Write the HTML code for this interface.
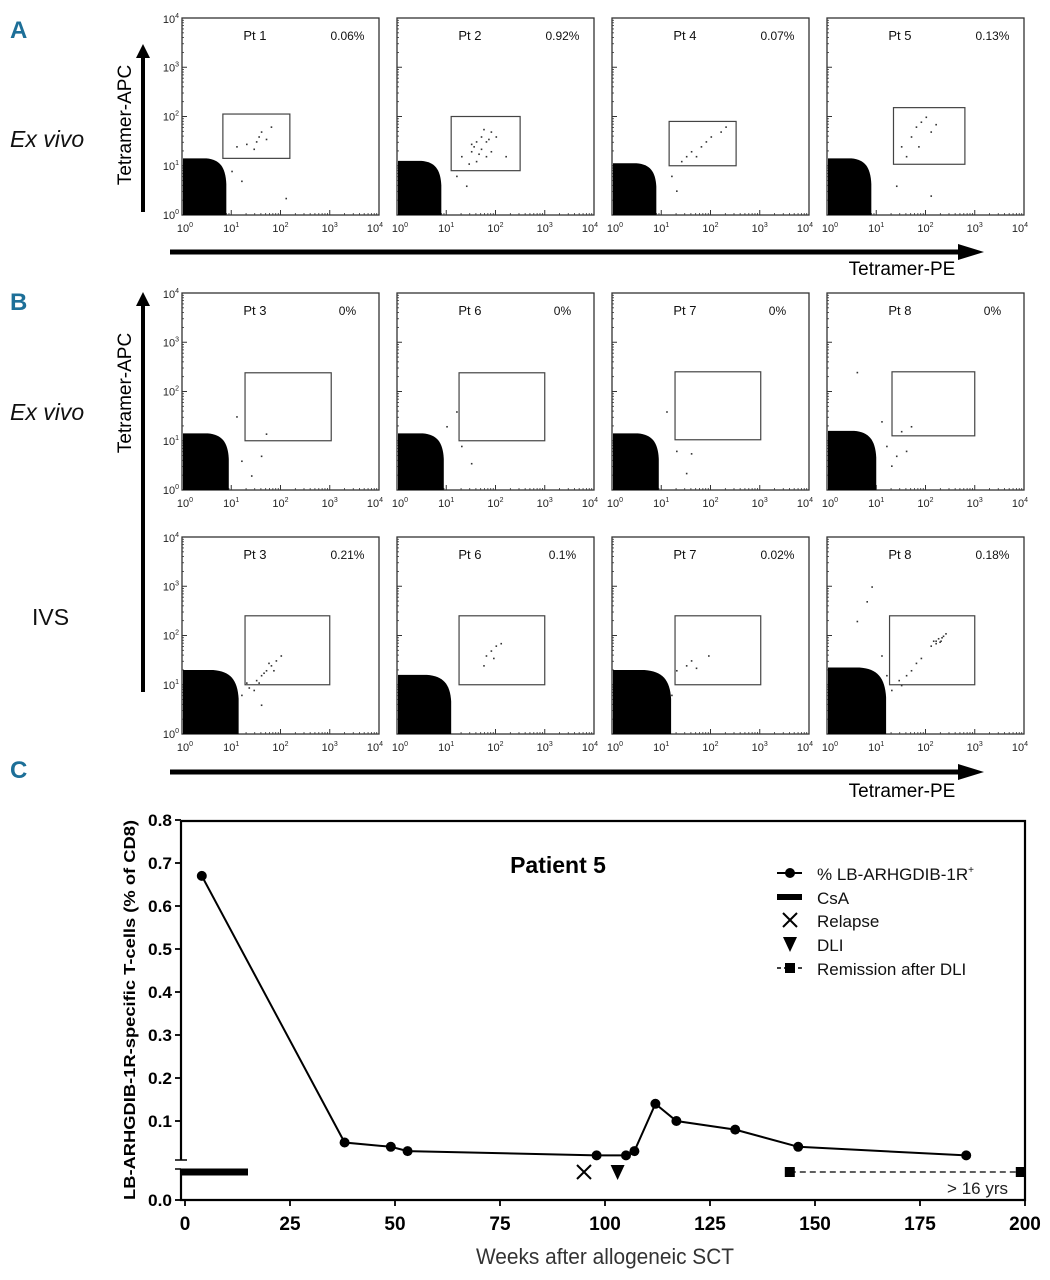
<!DOCTYPE html>
<html><head><meta charset="utf-8"><style>
html,body{margin:0;padding:0;background:#fff;}
svg{display:block;font-family:"Liberation Sans",sans-serif;}
</style></head><body>
<svg id="fig" width="1050" height="1280" viewBox="0 0 1050 1280" xmlns="http://www.w3.org/2000/svg">
<g font-weight="bold" fill="#1d6f98" font-size="24">
<text x="10" y="38">A</text>
<text x="10" y="310">B</text>
<text x="10" y="778">C</text>
</g>
<g font-size="23" fill="#111">
<text x="10" y="147" font-style="italic">Ex vivo</text>
<text x="10" y="420" font-style="italic">Ex vivo</text>
<text x="32" y="625">IVS</text>
</g>
<g>
<line x1="143" y1="212" x2="143" y2="56" stroke="#000" stroke-width="4"/>
<polygon points="136,58 150,58 143,44" fill="#000"/>
<text transform="translate(131,125) rotate(-90)" text-anchor="middle" font-size="19">Tetramer-APC</text>
<line x1="170" y1="252" x2="962" y2="252" stroke="#000" stroke-width="5"/>
<polygon points="958,244 958,260 984,252" fill="#000"/>
<text x="902" y="275" text-anchor="middle" font-size="19">Tetramer-PE</text>
<line x1="143" y1="692" x2="143" y2="304" stroke="#000" stroke-width="4"/>
<polygon points="136,306 150,306 143,292" fill="#000"/>
<text transform="translate(131,393) rotate(-90)" text-anchor="middle" font-size="19">Tetramer-APC</text>
<line x1="170" y1="772" x2="962" y2="772" stroke="#000" stroke-width="5"/>
<polygon points="958,764 958,780 984,772" fill="#000"/>
<text x="902" y="797" text-anchor="middle" font-size="19">Tetramer-PE</text>
</g>
<g id="flow"></g>
<g id="chartc"></g>
</svg>
<script>
var NS="http://www.w3.org/2000/svg";
function mk(tag,attrs,parent){var e=document.createElementNS(NS,tag);for(var k in attrs)e.setAttribute(k,attrs[k]);if(parent)parent.appendChild(e);return e;}

// ---------- Flow cytometry plots ----------
var plotPatients=["Pt 1","Pt 2","Pt 4","Pt 5","Pt 3","Pt 6","Pt 7","Pt 8","Pt 3","Pt 6","Pt 7","Pt 8"];
var plotPercents=["0.06%","0.92%","0.07%","0.13%","0%","0%","0%","0%","0.21%","0.1%","0.02%","0.18%"];
var plotGates=[[0.83,2.19,1.15,2.05],[1.1,2.5,0.9,2.0],[1.16,2.52,1.0,1.9],[1.35,2.8,1.03,2.18],
[1.28,3.03,1.0,2.38],[1.26,3.0,1.0,2.38],[1.28,3.02,1.02,2.4],[1.32,3.0,1.1,2.4],
[1.28,3.0,1.0,2.4],[1.26,3.0,1.0,2.4],[1.28,3.02,1.0,2.4],[1.27,3.0,1.0,2.4]];
var plotBlobs=[[0.9,1.15],[0.9,1.1],[0.9,1.05],[0.9,1.15],[0.95,1.15],[0.95,1.15],[0.95,1.15],[1.0,1.2],
[1.15,1.3],[1.1,1.2],[1.2,1.3],[1.2,1.35]];
var plotEvents=[
[[1.1,1.4],[1.3,1.45],[1.5,1.5],[1.6,1.7],[1.7,1.55],[1.8,1.8],[1.55,1.6],[1.45,1.35],[2.1,0.35],[1.0,0.9],[1.2,0.7]],
[[1.3,1.2],[1.5,1.3],[1.6,1.5],[1.7,1.6],[1.8,1.5],[1.9,1.7],[1.6,1.1],[1.7,1.35],[1.85,1.55],[1.5,1.45],[2.0,1.6],[1.75,1.75],[1.45,1.05],[1.2,0.8],[1.4,0.6],[2.2,1.2],[1.9,1.3],[1.65,1.25],[1.55,1.4],[1.8,1.2]],
[[1.4,1.1],[1.6,1.3],[1.8,1.4],[2.0,1.6],[2.2,1.7],[2.3,1.8],[1.9,1.5],[1.5,1.2],[1.2,0.8],[1.3,0.5],[1.7,1.2]],
[[1.5,1.4],[1.7,1.6],[1.8,1.8],[1.9,1.9],[2.0,2.0],[2.2,1.85],[1.6,1.2],[1.85,1.4],[2.1,1.7],[1.4,0.6],[2.1,0.4]],
[[1.2,0.6],[1.6,0.7],[1.7,1.15],[1.1,1.5],[1.4,0.3]],
[[1.3,0.9],[1.5,0.55],[1.2,1.6],[1.0,1.3]],
[[1.3,0.8],[1.6,0.75],[1.1,1.6],[1.5,0.35]],
[[1.2,0.9],[1.4,0.7],[1.6,0.8],[1.7,1.3],[1.5,1.2],[1.3,0.5],[1.1,1.4],[0.6,2.4]],
[[1.2,0.8],[1.35,0.95],[1.5,1.1],[1.6,1.2],[1.7,1.3],[1.8,1.4],[1.9,1.5],[1.65,1.25],[1.55,1.05],[1.75,1.45],[2.0,1.6],[1.45,0.9],[1.6,0.6],[1.3,1.05],[1.85,1.3]],
[[1.8,1.6],[1.9,1.7],[2.0,1.8],[1.75,1.4],[1.95,1.55],[2.1,1.85]],
[[1.3,1.3],[1.5,1.4],[1.6,1.5],[1.7,1.35],[1.95,1.6],[1.2,0.8]],
[[1.3,0.9],[1.45,1.1],[1.6,1.2],[1.7,1.3],[1.8,1.45],[1.9,1.55],[2.1,1.8],[2.2,1.9],[2.25,1.95],[2.3,1.9],[2.2,1.85],[2.35,2.0],[2.15,1.9],[2.28,1.88],[2.4,2.05],[2.32,1.97],[1.5,1.0],[1.2,1.2],[1.1,1.6],[0.8,2.7],[0.9,3.0],[0.6,2.3]]
];
var colX=[182,397,612,827], rowY=[18,293,537], PW=197, PH=197;
var minorLogs=[0.301,0.477,0.602,0.699,0.778,0.845,0.903,0.954];
var flow=document.getElementById('flow');
for(var i=0;i<12;i++){
  var col=i%4,row=Math.floor(i/4);
  var x0=colX[col], y0=rowY[row];
  var px=(function(a){return function(d){return a+d/4*PW;};})(x0);
  var py=(function(b){return function(d){return b+PH-d/4*PH;};})(y0);
  var g=mk('g',{},flow);
  
  
  var fr=mk('rect',{x:x0,y:y0,width:PW,height:PH,fill:'#fff',stroke:'#333','stroke-width':1.3},g);
  
  
  for(var d=0;d<4;d++){
    for(var m=0;m<minorLogs.length;m++){
      var t=mk('line',{x1:px(d+minorLogs[m]),x2:px(d+minorLogs[m]),y1:y0+PH,y2:y0+PH-2,stroke:'#333','stroke-width':0.8},g);
      
      
      var t2=mk('line',{y1:py(d+minorLogs[m]),y2:py(d+minorLogs[m]),x1:x0,x2:x0+2,stroke:'#333','stroke-width':0.8},g);
      
      
    }
  }
  for(var d=0;d<=4;d++){
    var tk=mk('line',{x1:px(d),x2:px(d),y1:y0+PH,y2:y0+PH-5,stroke:'#333','stroke-width':1},g);
    
    
    var tk2=mk('line',{y1:py(d),y2:py(d),x1:x0,x2:x0+5,stroke:'#333','stroke-width':1},g);
    
    
    var lb=mk('text',{x:px(d)+(d==0?3:(d==4?-4:0)),y:y0+PH+17,'text-anchor':'middle','font-size':11,fill:'#222'},g);
    
    
    lb.textContent='10';
    var sp=mk('tspan',{dy:-5,'font-size':7},lb); sp.textContent=String(d);
    if(col==0){
      var yl=mk('text',{x:x0-3,y:py(d)+(d==4?5:4),'text-anchor':'end','font-size':11,fill:'#222'},g);
      
      
      yl.textContent='10';
      var sp2=mk('tspan',{dy:-5,'font-size':7},yl); sp2.textContent=String(d);
    }
  }
  var bw=plotBlobs[i][0], bh=plotBlobs[i][1];
  var path='M'+px(0.02)+','+py(0)+' L'+px(0.02)+','+py(bh)+' L'+px(bw*0.55)+','+py(bh)+' C'+px(bw*0.85)+','+py(bh*0.98)+' '+px(bw*0.98)+','+py(bh*0.85)+' '+px(bw)+','+py(bh*0.55)+' L'+px(bw)+','+py(0)+' Z';
  var bl=mk('path',{d:path,fill:'#000'},g);
  
  
  var gt=plotGates[i];
  var gr=mk('rect',{x:px(gt[0]),y:py(gt[3]),width:px(gt[1])-px(gt[0]),height:py(gt[2])-py(gt[3]),fill:'none',stroke:'#444','stroke-width':1.2},g);
  
  
  var ev=plotEvents[i];
  for(var k=0;k<ev.length;k++){
    var c=mk('rect',{x:px(ev[k][0]),y:py(ev[k][1]),width:1.6,height:1.6,fill:'#333'},g);
    
    
  }
  var pt=mk('text',{x:x0+PW*0.37,y:y0+22,'text-anchor':'middle','font-size':13,fill:'#111'},g);
  
  
  pt.textContent=plotPatients[i];
  var pc=mk('text',{x:x0+PW*0.84,y:y0+22,'text-anchor':'middle','font-size':12,fill:'#111'},g);
  
  
  pc.textContent=plotPercents[i];
}

// ---------- Chart C ----------
var weeks=[4,38,49,53,98,105,107,112,117,131,146,186];
var values=[0.67,0.05,0.04,0.03,0.02,0.02,0.03,0.14,0.10,0.08,0.04,0.02];
var xTicks=[0,25,50,75,100,125,150,175,200];
var yTicks=[0.1,0.2,0.3,0.4,0.5,0.6,0.7,0.8];
var yTickLabels=["0.1","0.2","0.3","0.4","0.5","0.6","0.7","0.8"];
var csaWeeks=[0,15];
var relapseWeek=[95];
var dliWeek=[103];
var remissionWeeks=[144,199];
var C=document.getElementById('chartc');
function xs(w){return 185+w*4.2;}
function ys(v){return 1121-(v-0.1)*430;}
var EV=1172;
var ax=mk('path',{d:'M181,821 L1025,821 L1025,1200 L181,1200 L181,1169 M181,1160 L181,821',fill:'none',stroke:'#000','stroke-width':2.2},C);


var cap=mk('path',{d:'M175,1160 L187,1160 M175,1169 L181,1169',stroke:'#000','stroke-width':1.5},C);


for(var i=0;i<yTicks.length;i++){
  var t=mk('line',{x1:175,x2:181,y1:ys(yTicks[i]),y2:ys(yTicks[i]),stroke:'#000','stroke-width':1.8},C);
  
  
  var l=mk('text',{x:172,y:ys(yTicks[i])+6,'text-anchor':'end','font-size':17,'font-weight':'bold',textLength:24,lengthAdjust:'spacingAndGlyphs'},C);
  
  
  l.textContent=yTickLabels[i];
}
var z=mk('line',{x1:175,x2:181,y1:1200,y2:1200,stroke:'#000','stroke-width':1.8},C);


var zl=mk('text',{x:172,y:1206,'text-anchor':'end','font-size':17,'font-weight':'bold',textLength:24,lengthAdjust:'spacingAndGlyphs'},C);


zl.textContent='0.0';
for(var i=0;i<xTicks.length;i++){
  var t=mk('line',{x1:xs(xTicks[i]),x2:xs(xTicks[i]),y1:1200,y2:1206,stroke:'#000','stroke-width':1.8},C);
  
  
  var l=mk('text',{x:xs(xTicks[i]),y:1230,'text-anchor':'middle','font-size':19,'font-weight':'bold'},C);
  
  
  l.textContent=String(xTicks[i]);
}
var xt=mk('text',{x:605,y:1264,'text-anchor':'middle','font-size':22,fill:'#333',textLength:258,lengthAdjust:'spacingAndGlyphs'},C);


xt.textContent='Weeks after allogeneic SCT';
var yt=mk('text',{transform:'translate(135,1010) rotate(-90)','text-anchor':'middle','font-size':16,'font-weight':'bold',textLength:380,lengthAdjust:'spacingAndGlyphs'},C);


yt.textContent='LB-ARHGDIB-1R-specific T-cells (% of CD8)';
var tt=mk('text',{x:558,y:873,'text-anchor':'middle','font-size':23,'font-weight':'bold'},C);


tt.textContent='Patient 5';
var pts=[];
for(var i=0;i<weeks.length;i++)pts.push(xs(weeks[i])+','+ys(values[i]));
var ln=mk('polyline',{points:pts.join(' '),fill:'none',stroke:'#000','stroke-width':2},C);


for(var i=0;i<weeks.length;i++){
  var c=mk('circle',{cx:xs(weeks[i]),cy:ys(values[i]),r:5,fill:'#000'},C);
  
  
}
var cs=mk('line',{x1:xs(csaWeeks[0])-4,x2:xs(csaWeeks[1]),y1:EV,y2:EV,stroke:'#000','stroke-width':7},C);


var rx=xs(relapseWeek[0]);
var rl=mk('path',{d:'M'+(rx-7)+','+(EV-7)+' L'+(rx+7)+','+(EV+7)+' M'+(rx+7)+','+(EV-7)+' L'+(rx-7)+','+(EV+7),stroke:'#000','stroke-width':2},C);


var dx=xs(dliWeek[0]);
var dl=mk('polygon',{points:(dx-7)+','+(EV-7)+' '+(dx+7)+','+(EV-7)+' '+dx+','+(EV+8),fill:'#000'},C);


var rm=mk('line',{x1:xs(remissionWeeks[0]),x2:xs(remissionWeeks[1]),y1:EV,y2:EV,stroke:'#000','stroke-width':1.3,'stroke-dasharray':'6,4'},C);


for(var i=0;i<remissionWeeks.length;i++){
  var s=mk('rect',{x:xs(remissionWeeks[i])-5,y:EV-5,width:10,height:10,fill:'#000'},C);
  
  
}
var yr=mk('text',{x:1008,y:1194,'text-anchor':'end','font-size':17,fill:'#222'},C);


yr.textContent='> 16 yrs';
var lg=mk('g',{'font-size':17},C);


var l1=mk('line',{x1:777,x2:802,y1:873,y2:873,stroke:'#000','stroke-width':2},lg);


var l1c=mk('circle',{cx:790,cy:873,r:5,fill:'#000'},lg);


var l2=mk('line',{x1:777,x2:802,y1:897,y2:897,stroke:'#000','stroke-width':6},lg);


var l3=mk('path',{d:'M783,913 L797,927 M797,913 L783,927',stroke:'#000','stroke-width':2},lg);


var l4=mk('polygon',{points:'783,937 797,937 790,952',fill:'#000'},lg);


var l5=mk('line',{x1:777,x2:802,y1:968,y2:968,stroke:'#000','stroke-width':1.5,'stroke-dasharray':'4,3'},lg);


var l5s=mk('rect',{x:785,y:963,width:10,height:10,fill:'#000'},lg);


var legTexts=['% LB-ARHGDIB-1R','CsA','Relapse','DLI','Remission after DLI'];
var legY=[880,904,927,951,975];
for(var i=0;i<legTexts.length;i++){
  var tx=mk('text',{x:817,y:legY[i],fill:'#111'},lg);
  
  
  tx.textContent=legTexts[i];
  if(i==0){var sp=mk('tspan',{dy:-7,'font-size':10},tx);sp.textContent='+';}
}
</script>
</body></html>
